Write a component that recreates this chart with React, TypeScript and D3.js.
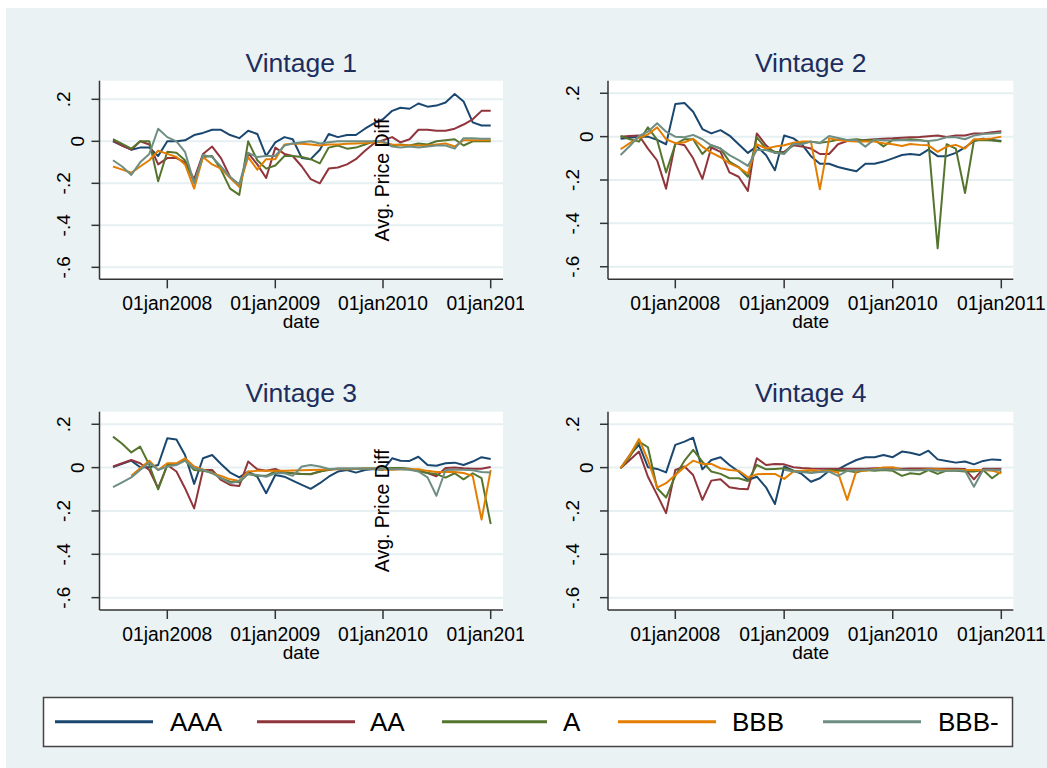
import React from 'react';
import * as d3 from 'd3';

const seriesNames = ['AAA', 'AA', 'A', 'BBB', 'BBB-'];
const seriesColors = ['#1a476f', '#90353b', '#55752f', '#e37e00', '#6e8e84'];
const panelTitles = ['Vintage 1', 'Vintage 2', 'Vintage 3', 'Vintage 4'];
const xTickDates = [new Date(2008, 0, 1), new Date(2009, 0, 1), new Date(2010, 0, 1), new Date(2011, 0, 1)];
const xTickLabels = ['01jan2008', '01jan2009', '01jan2010', '01jan2011'];
const yTicks = [0.2, 0, -0.2, -0.4, -0.6];
const yTickLabels = ['.2', '0', '-.2', '-.4', '-.6'];
const months = d3.timeMonth.range(new Date(2007, 6, 1), new Date(2011, 0, 2));

type V = number | null;

// Vintage 1
const v1AAA: V[] = [0, -0.02, -0.04, -0.03, -0.03, -0.07, 0.0, 0.0, 0.005, 0.03, 0.04, 0.055, 0.055, 0.03, 0.015, 0.05, 0.035, -0.07, -0.005, 0.02, 0.01, -0.08, -0.085, -0.04, 0.035, 0.02, 0.03, 0.03, 0.06, 0.085, 0.105, 0.145, 0.16, 0.155, 0.18, 0.165, 0.17, 0.185, 0.225, 0.19, 0.09, 0.075, 0.075];
const v1AA: V[] = [0.005, -0.02, -0.04, 0.0, -0.015, -0.11, -0.08, -0.08, -0.1, -0.18, -0.06, -0.025, -0.08, -0.17, -0.215, -0.055, -0.11, -0.175, -0.03, -0.06, -0.07, -0.12, -0.18, -0.2, -0.13, -0.125, -0.11, -0.085, -0.045, -0.01, 0.005, 0.02, -0.005, 0.01, 0.055, 0.055, 0.05, 0.05, 0.06, 0.08, 0.105, 0.145, 0.145];
const v1A: V[] = [0.01, -0.012, -0.035, 0.0, 0.0, -0.19, -0.05, -0.055, -0.09, -0.195, -0.075, -0.07, -0.135, -0.225, -0.255, 0.0, -0.09, -0.13, -0.115, -0.07, -0.07, -0.075, -0.085, -0.105, -0.03, -0.02, -0.035, -0.03, -0.015, 0.0, -0.005, -0.02, -0.015, -0.02, -0.01, -0.015, 0.0, 0.005, 0.01, -0.02, 0.0, 0.0, 0.0];
const v1BBB: V[] = [-0.12, -0.135, -0.15, -0.12, -0.09, -0.045, -0.06, -0.075, -0.11, -0.225, -0.075, -0.11, -0.13, -0.175, -0.215, -0.075, -0.135, -0.085, -0.085, -0.015, -0.012, -0.012, -0.015, -0.02, -0.015, -0.015, -0.012, -0.01, -0.008, -0.005, -0.005, -0.015, -0.018, -0.02, -0.02, -0.02, -0.015, -0.01, -0.025, 0.005, 0.005, 0.005, 0.005];
const v1BBBm: V[] = [-0.09, -0.12, -0.16, -0.1, -0.06, 0.06, 0.02, 0.0, -0.05, -0.2, -0.065, -0.075, -0.12, -0.17, -0.205, -0.055, -0.075, -0.07, -0.07, -0.02, -0.01, -0.005, 0.0, -0.01, -0.005, 0.0, 0.0, 0.0, 0.0, 0.0, 0.0, -0.025, -0.03, -0.025, -0.03, -0.025, -0.02, -0.02, -0.035, 0.015, 0.015, 0.012, 0.012];

// Vintage 2
const v2AAA: V[] = [-0.01, -0.005, 0.0, 0.0, -0.015, -0.035, 0.15, 0.155, 0.115, 0.035, 0.015, 0.03, 0.005, -0.035, -0.075, -0.045, -0.085, -0.155, 0.005, -0.008, -0.035, -0.09, -0.125, -0.125, -0.14, -0.15, -0.16, -0.125, -0.125, -0.115, -0.1, -0.085, -0.08, -0.085, -0.06, -0.09, -0.09, -0.075, -0.05, -0.02, -0.01, -0.015, -0.02];
const v2AA: V[] = [0, 0.003, 0.005, -0.055, -0.11, -0.24, -0.03, -0.04, -0.1, -0.195, -0.05, -0.07, -0.165, -0.185, -0.25, 0.015, -0.04, -0.075, -0.07, -0.04, -0.045, -0.055, -0.08, -0.08, -0.035, -0.02, -0.018, -0.015, -0.012, -0.01, -0.008, -0.005, -0.003, -0.002, 0.002, 0.005, -0.002, 0.005, 0.005, 0.015, 0.015, 0.02, 0.025];
const v2A: V[] = [0.003, -0.012, -0.023, 0.043, -0.015, -0.165, -0.035, -0.012, -0.012, -0.08, -0.04, -0.055, -0.115, -0.14, -0.185, -0.003, -0.055, -0.07, -0.075, -0.03, -0.03, -0.023, -0.028, -0.023, -0.015, -0.015, -0.012, -0.018, -0.015, -0.045, -0.015, -0.015, -0.012, -0.015, -0.023, -0.515, -0.035, -0.055, -0.26, -0.018, -0.015, -0.018, -0.023];
const v2BBB: V[] = [-0.058, -0.03, -0.005, 0.01, 0.043, -0.012, -0.03, -0.026, -0.01, -0.046, -0.074, -0.095, -0.123, -0.143, -0.17, -0.035, -0.055, -0.046, -0.04, -0.028, -0.023, -0.023, -0.243, -0.008, -0.015, -0.02, -0.023, -0.023, -0.023, -0.03, -0.035, -0.043, -0.034, -0.038, -0.04, -0.07, -0.046, -0.038, -0.055, -0.012, -0.012, -0.008, 0];
const v2BBBm: V[] = [-0.085, -0.043, 0.003, 0.023, 0.062, 0.023, 0, -0.003, 0.008, -0.012, -0.04, -0.055, -0.085, -0.108, -0.135, -0.062, -0.062, -0.074, -0.08, -0.034, -0.035, -0.023, -0.03, 0.003, -0.006, -0.015, -0.015, -0.046, -0.012, -0.018, -0.018, -0.015, -0.018, -0.018, -0.02, -0.015, -0.003, -0.003, -0.012, 0.005, 0.012, 0.015, 0.018];

// Vintage 3
const v3AAA: V[] = [0.002, 0.017, 0.032, 0.002, 0.002, 0.012, 0.135, 0.13, 0.058, -0.075, 0.043, 0.058, 0.017, -0.023, -0.045, -0.018, -0.042, -0.118, -0.034, -0.042, -0.06, -0.08, -0.098, -0.072, -0.042, -0.018, -0.011, -0.023, -0.011, -0.006, -0.011, 0.043, 0.032, 0.031, 0.05, 0.012, 0.009, 0.02, 0.023, 0.012, 0.028, 0.048, 0.04];
const v3AA: V[] = [0.005, 0.02, 0.035, 0.02, -0.011, -0.095, 0.012, -0.018, -0.095, -0.188, -0.011, -0.011, -0.057, -0.08, -0.085, 0.028, -0.008, -0.014, -0.006, -0.023, -0.026, -0.029, -0.031, -0.018, -0.008, -0.005, -0.005, -0.005, -0.005, -0.005, -0.005, -0.005, -0.003, -0.008, -0.015, -0.025, -0.04, -0.002, 0, -0.003, -0.005, -0.005, 0.003];
const v3A: V[] = [0.143, 0.11, 0.07, 0.097, 0.012, -0.1, 0.012, 0.017, 0.035, -0.011, -0.014, -0.022, -0.049, -0.065, -0.068, -0.029, -0.038, -0.038, -0.018, -0.022, -0.026, -0.029, -0.029, -0.018, -0.011, -0.005, -0.005, -0.005, -0.004, -0.004, -0.004, -0.002, -0.002, -0.005, -0.015, -0.025, -0.03, -0.046, -0.026, -0.054, -0.026, -0.049, -0.26];
const v3BBB: V[] = [null, null, -0.038, -0.003, 0.032, -0.011, 0.02, 0.02, 0.043, 0.005, -0.008, -0.026, -0.038, -0.054, -0.062, -0.018, -0.015, -0.015, -0.015, -0.014, -0.013, -0.012, -0.011, -0.01, -0.009, -0.008, -0.007, -0.006, -0.005, -0.005, -0.01, -0.01, -0.008, -0.008, -0.008, -0.015, -0.02, -0.02, -0.02, -0.025, -0.038, -0.24, -0.011];
const v3BBBm: V[] = [-0.09, -0.068, -0.045, -0.011, 0.023, -0.011, 0.005, 0.012, 0.032, -0.003, -0.011, -0.026, -0.049, -0.072, -0.062, -0.029, -0.034, -0.042, -0.026, -0.026, -0.038, 0.005, 0.012, 0.005, -0.006, -0.005, -0.005, -0.005, -0.005, -0.005, -0.005, -0.008, -0.008, -0.01, -0.018, -0.045, -0.13, -0.011, -0.01, -0.01, -0.012, -0.02, -0.023];

// Vintage 4
const v4AAA: V[] = [-0.003, 0.058, 0.105, 0.002, -0.006, -0.022, 0.105, 0.12, 0.138, -0.008, 0.035, 0.048, 0.012, -0.018, -0.057, -0.042, -0.091, -0.168, 0.005, -0.014, -0.029, -0.065, -0.049, -0.014, -0.008, 0.015, 0.035, 0.048, 0.048, 0.058, 0.048, 0.074, 0.069, 0.058, 0.078, 0.038, 0.031, 0.023, 0.028, 0.015, 0.031, 0.038, 0.035];
const v4AA: V[] = [-0.003, 0.035, 0.074, -0.042, -0.126, -0.21, -0.011, 0.005, -0.034, -0.149, -0.06, -0.054, -0.091, -0.098, -0.1, 0.043, 0.012, 0.017, 0.015, 0.002, -0.002, -0.004, -0.005, -0.005, -0.005, -0.005, -0.005, -0.005, -0.003, -0.002, -0.003, -0.005, -0.004, -0.004, -0.004, -0.005, -0.005, -0.005, -0.006, -0.054, -0.005, -0.005, -0.005];
const v4A: V[] = [-0.003, 0.05, 0.12, 0.094, -0.095, -0.138, -0.038, 0.032, 0.082, 0.028, -0.018, -0.029, -0.049, -0.049, -0.062, 0.012, -0.008, -0.006, -0.003, -0.014, -0.018, -0.023, -0.018, -0.011, -0.015, -0.015, -0.022, -0.011, -0.015, -0.011, -0.015, -0.038, -0.026, -0.031, -0.011, -0.029, -0.014, -0.014, -0.018, -0.018, -0.011, -0.049, -0.018];
const v4BBB: V[] = [-0.003, 0.058, 0.132, 0.035, -0.092, -0.072, -0.034, 0.002, 0.032, 0.017, 0.017, -0.003, -0.011, -0.014, -0.045, -0.031, -0.029, -0.029, -0.052, -0.018, -0.014, -0.011, -0.018, -0.014, -0.023, -0.149, -0.014, -0.014, -0.006, 0, 0.002, -0.011, -0.011, -0.011, -0.008, -0.008, -0.01, -0.01, -0.011, -0.011, -0.011, -0.014, -0.026];
const v4BBBm: V[] = [null, null, null, null, null, null, null, null, null, null, null, null, null, null, null, null, null, null, -0.01, -0.018, -0.02, -0.025, -0.02, -0.018, -0.038, -0.015, -0.012, -0.01, -0.01, -0.008, -0.01, -0.01, -0.012, -0.012, -0.01, -0.015, -0.015, -0.012, -0.015, -0.088, -0.01, -0.01, -0.012];

const panelData: V[][][] = [
  [v1AAA, v1AA, v1A, v1BBB, v1BBBm],
  [v2AAA, v2AA, v2A, v2BBB, v2BBBm],
  [v3AAA, v3AA, v3A, v3BBB, v3BBBm],
  [v4AAA, v4AA, v4A, v4BBB, v4BBBm],
];

const FONT = '"Liberation Sans", Arial, Helvetica, sans-serif';
const BG = '#eaf2f3';

// layout
const panels = [
  { x0: 99.5, x1: 503, y0: 80.7, y1: 279.3, xa: 167.3, xb: 490.7, yDom: [-0.657, 0.2886], titleY: 71.7, clipX: 0, clipW: 524, ytitle: true },
  { x0: 608, x1: 1013.3, y0: 80.7, y1: 279.3, xa: 675.3, xb: 1001.3, yDom: [-0.658, 0.258], titleY: 71.7, clipX: 524, clipW: 523, ytitle: false },
  { x0: 99.5, x1: 503, y0: 411.7, y1: 610, xa: 167.3, xb: 490.7, yDom: [-0.657, 0.258], titleY: 402.3, clipX: 0, clipW: 524, ytitle: true },
  { x0: 608, x1: 1013.3, y0: 411.7, y1: 610, xa: 675.3, xb: 1001.3, yDom: [-0.657, 0.258], titleY: 402.3, clipX: 524, clipW: 523, ytitle: false },
];

const legendKeyX = [55, 257, 442, 618, 823];
const legendKeyLen = [98, 98, 105, 98, 98];
const legendTextX = [170, 370, 563, 732, 938];

function Panel({ idx }: { idx: number }) {
  const p = panels[idx];
  const xs = d3.scaleTime().domain([xTickDates[0], xTickDates[3]]).range([p.xa, p.xb]);
  const ys = d3.scaleLinear().domain(p.yDom).range([p.y1, p.y0]);
  const cx = (p.x0 + p.x1) / 2;
  return (
    <g clipPath={`url(#clip${idx})`}>
      <defs>
        <clipPath id={`clip${idx}`}>
          <rect x={p.clipX} y={0} width={p.clipW} height={768} />
        </clipPath>
      </defs>
      <rect x={p.x0} y={p.y0} width={p.x1 - p.x0} height={p.y1 - p.y0} fill="#ffffff" />
      {yTicks.map((t) => (
        <line key={'g' + t} x1={p.x0} x2={p.x1} y1={ys(t)} y2={ys(t)} stroke="#e6eff1" strokeWidth={2} />
      ))}
      {panelData[idx].map((vals, s) => {
        const line = d3
          .line<V>()
          .defined((d) => d !== null)
          .x((_, i) => xs(months[i]))
          .y((d) => ys(d as number));
        return (
          <path key={s} d={line(vals) || ''} fill="none" stroke={seriesColors[s]} strokeWidth={2} strokeLinejoin="round" />
        );
      })}
      <line x1={p.x0} x2={p.x0} y1={p.y0} y2={p.y1} stroke="#333" strokeWidth={1.5} />
      <line x1={p.x0} x2={p.x1} y1={p.y1} y2={p.y1} stroke="#333" strokeWidth={1.5} />
      {yTicks.map((t, i) => (
        <g key={'yt' + t}>
          <line x1={p.x0 - 8} x2={p.x0} y1={ys(t)} y2={ys(t)} stroke="#333" strokeWidth={1.5} />
          <text
            transform={`translate(${p.x0 - (yTickLabels[i] === '0' ? 15.5 : 29.5)},${ys(t)}) rotate(-90)`}
            textAnchor="middle"
            fontFamily={FONT}
            fontSize={19}
            fill="#000"
          >
            {yTickLabels[i]}
          </text>
        </g>
      ))}
      {xTickDates.map((d, i) => (
        <g key={'xt' + i}>
          <line x1={xs(d)} x2={xs(d)} y1={p.y1} y2={p.y1 + 9} stroke="#333" strokeWidth={1.5} />
          <text x={xs(d)} y={p.y1 + 31} textAnchor="middle" fontFamily={FONT} fontSize={19.3} fill="#000">
            {xTickLabels[i]}
          </text>
        </g>
      ))}
      <text x={cx} y={p.y1 + 49} textAnchor="middle" fontFamily={FONT} fontSize={19} fill="#000">
        date
      </text>
      <text x={cx} y={p.titleY} textAnchor="middle" fontFamily={FONT} fontSize={26.5} fill="#1c2d5e">
        {panelTitles[idx]}
      </text>
      {p.ytitle && (
        <text
          transform={`translate(389,${(p.y0 + p.y1) / 2}) rotate(-90)`}
          textAnchor="middle"
          fontFamily={FONT}
          fontSize={19.5}
          fill="#000"
        >
          Avg. Price Diff
        </text>
      )}
    </g>
  );
}

export default function App() {
  return (
    <svg
      width={1047}
      height={768}
      style={{ position: 'absolute', left: 0, top: 0, display: 'block' }}
    >
      <rect x={0} y={0} width={1047} height={768} fill="#ffffff" />
      <rect x={6} y={8} width={1041} height={760} fill={BG} />
      {panels.map((_, i) => (
        <Panel key={i} idx={i} />
      ))}
      <rect x={43.5} y={697.5} width={969} height={49} fill="#ffffff" stroke="#444" strokeWidth={1.5} />
      {seriesNames.map((n, i) => (
        <g key={n}>
          <line
            x1={legendKeyX[i]}
            x2={legendKeyX[i] + legendKeyLen[i]}
            y1={721.7}
            y2={721.7}
            stroke={seriesColors[i]}
            strokeWidth={3}
          />
          <text x={legendTextX[i]} y={731} fontFamily={FONT} fontSize={26} fill="#000">
            {n}
          </text>
        </g>
      ))}
    </svg>
  );
}
